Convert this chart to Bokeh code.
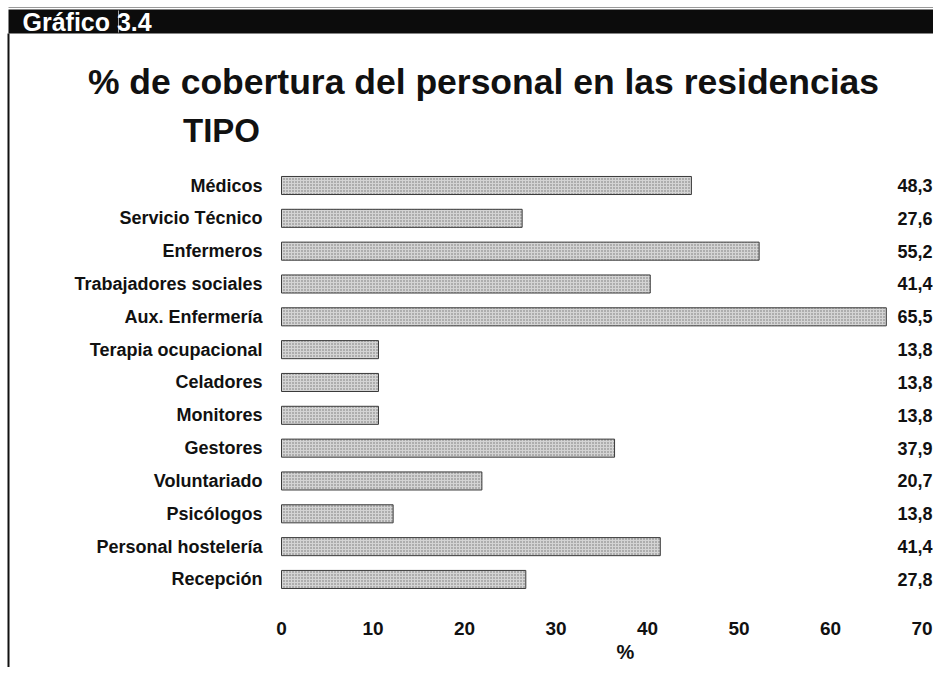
from bokeh.plotting import figure
from bokeh.models import Range1d
from bokeh.core.properties import value
from bokeh.embed import file_html
from bokeh.resources import INLINE

# ---- data ----
header = "Gráfico 3.4"
title = "% de cobertura del personal en las residencias"
subtitle = "TIPO"
categories = ["Médicos", "Servicio Técnico", "Enfermeros", "Trabajadores sociales",
              "Aux. Enfermería", "Terapia ocupacional", "Celadores", "Monitores",
              "Gestores", "Voluntariado", "Psicólogos", "Personal hostelería", "Recepción"]
bar_values = [44.8, 26.3, 52.2, 40.3, 66.1, 10.6, 10.6, 10.6, 36.4, 21.9, 12.2, 41.4, 26.7]
value_labels = ["48,3", "27,6", "55,2", "41,4", "65,5", "13,8", "13,8", "13,8",
                "37,9", "20,7", "13,8", "41,4", "27,8"]
x_ticks = [0, 10, 20, 30, 40, 50, 60, 70]
x_label = "%"

# ---- layout (pixel geometry) ----
W, H = 933, 667
FONT = "Liberation Sans"
X0_PX, PX_PER_UNIT = 281.0, 9.15      # where 0 % sits and horizontal scale
ROW0_PX, ROW_PX = 185.0, 32.83         # first row centre and row pitch

rows = list(range(len(categories)))

p = figure(width=W, height=H, output_backend="svg", toolbar_location=None,
           x_range=Range1d(-X0_PX / PX_PER_UNIT, (W - X0_PX) / PX_PER_UNIT),
           y_range=Range1d((H - ROW0_PX) / ROW_PX, -ROW0_PX / ROW_PX),
           min_border=0, x_axis_type=None, y_axis_type=None)
p.extra_x_ranges = {"px": Range1d(0, W)}
p.extra_y_ranges = {"px": Range1d(H, 0)}
p.title.visible = False
p.outline_line_color = None
p.xgrid.visible = False
p.ygrid.visible = False
p.background_fill_color = "white"
p.border_fill_color = "white"

# bars
p.hbar(y=rows, left=0, right=bar_values, height=0.55,
       fill_color="#d4d4d4", line_color="#3a3a3a", line_width=1,
       hatch_pattern="dot", hatch_color="#727272", hatch_scale=3, hatch_weight=1)

# category labels
p.text(x=[-19 / PX_PER_UNIT] * len(categories), y=rows, text=categories,
       text_align="right", text_baseline="middle", text_font=value(FONT),
       text_font_size="18px", text_font_style="bold", text_color="#111111")

# value labels
p.text(x=[(932 - X0_PX) / PX_PER_UNIT] * len(categories), y=rows, text=value_labels,
       text_align="right", text_baseline="middle", text_font=value(FONT),
       text_font_size="18px", text_font_style="bold", text_color="#111111")

# x tick labels and axis label
p.text(x=x_ticks, y=[628] * len(x_ticks), y_range_name="px",
       text=[str(t) for t in x_ticks], text_align="center", text_baseline="middle",
       text_font=value(FONT), text_font_size="19px", text_font_style="bold",
       text_color="#111111")
p.text(x=[625], y=[651], x_range_name="px", y_range_name="px", text=[x_label],
       text_align="center", text_baseline="middle", text_font=value(FONT),
       text_font_size="20px", text_font_style="bold", text_color="#111111")

# header band, divider and left frame line
p.quad(left=[8], right=[W], top=[9], bottom=[33], x_range_name="px", y_range_name="px",
       fill_color="#0c0c0c", line_color=None)
p.segment(x0=[8], y0=[7], x1=[W], y1=[7], x_range_name="px", y_range_name="px",
          line_color="#9a9a9a", line_width=1)
p.segment(x0=[118], y0=[10], x1=[118], y1=[32], x_range_name="px", y_range_name="px",
          line_color="#a0a0a0", line_width=1)
p.segment(x0=[8], y0=[33], x1=[8], y1=[H], x_range_name="px", y_range_name="px",
          line_color="#111111", line_width=2)

# texts
p.text(x=[22], y=[21], x_range_name="px", y_range_name="px", text=[header],
       text_align="left", text_baseline="middle", text_font=value(FONT),
       text_font_size="25px", text_font_style="bold", text_color="white")
p.text(x=[483], y=[81], x_range_name="px", y_range_name="px", text=[title],
       text_align="center", text_baseline="middle", text_font=value(FONT),
       text_font_size="35.5px", text_font_style="bold", text_color="#111111")
p.text(x=[221], y=[130], x_range_name="px", y_range_name="px", text=[subtitle],
       text_align="center", text_baseline="middle", text_font=value(FONT),
       text_font_size="33px", text_font_style="bold", text_color="#111111")

open("out.html", "w").write(file_html(p, INLINE))
